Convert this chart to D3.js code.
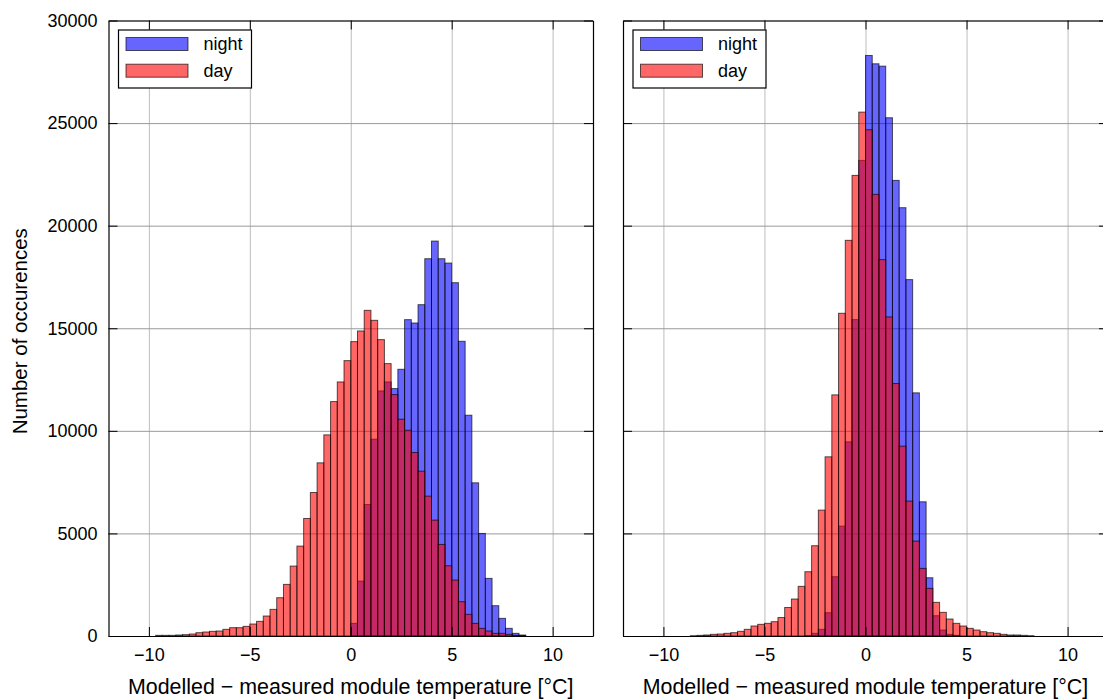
<!DOCTYPE html>
<html>
<head>
<meta charset="utf-8">
<script src="https://cdn.jsdelivr.net/npm/d3@7"></script>
<style>
  html, body { margin: 0; padding: 0; background: #fff; }
  svg { display: block; }
  text { font-family: "Liberation Sans", Arial, Helvetica, sans-serif; fill: #000; }
</style>
</head>
<body>
<svg id="chart" width="1103" height="700"></svg>
<script>
// ---- data (bin left edges in °C, bin width 1/3 °C) ----
const binWidth = 1 / 3;
const binStarts = d3.range(-29, 26).map(k => k / 3);   // 55 bins from -9.67 to 8.67

const nightLeft = [0,0,0,0,0,0,0,0,0,0, 0,0,0,0,0,0,0,0,0,0, 0,0,0,0,0,0,0,0,0,
  617, 2678, 6411, 9592, 11945, 12383, 12059, 13000, 15419, 15256, 16149,
  18389, 19249, 18389, 18178, 17220, 14364, 10761, 7466, 4999, 2808,
  1477, 860, 373, 130, 49];

const dayLeft = [32, 32, 32, 49, 65, 97, 162, 195, 227, 243,
  325, 406, 406, 470, 584, 714, 974, 1298, 1866, 2516,
  3408, 4382, 5729, 6995, 8440, 9803, 11426, 12383, 13422, 14347,
  14867, 15873, 15386, 14445, 13276, 11767, 10566, 10030, 8943, 8034,
  6817, 5648, 4463, 3425, 2727, 1672, 1055, 617, 373, 243,
  130, 130, 81, 32, 16];

const nightRight = [0,0,0,0,0,0,0,0,0,0, 0,0,0,0,0,0,0,0,0,0,
  16, 130, 325, 1136, 2890, 5357, 9464, 15422, 23181, 28295,
  27890, 27775, 25260, 22207, 20876, 17370, 11851, 6541, 2839, 990,
  292, 81, 32, 0, 0, 0, 0, 0, 0, 0, 0, 0, 0, 0, 0];

const dayRight = [0, 0, 0, 16, 32, 49, 81, 97, 130, 162,
  227, 325, 487, 568, 617, 698, 900, 1390, 1802, 2420,
  3133, 4400, 6136, 8733, 11753, 15730, 19285, 22451, 25534, 24675,
  21525, 18344, 15552, 12305, 9253, 6575, 4627, 3295, 2321, 1640,
  1153, 828, 617, 487, 373, 292, 211, 162, 130, 81,
  49, 49, 32, 16, 0];

const xTicks = [-10, -5, 0, 5, 10];
const yTicks = [0, 5000, 10000, 15000, 20000, 25000, 30000];
const seriesNames = ["night", "day"];
const xLabel = "Modelled \u2212 measured module temperature [\u00B0C]";
const yLabel = "Number of occurences";

// ---- layout ----
const svg = d3.select("#chart");
const plotTop = 20.5, plotBottom = 636;
const panels = [
  { x0: 108.5, x1: 593, night: nightLeft, day: dayLeft, showY: true },
  { x0: 623, x1: 1108, night: nightRight, day: dayRight, showY: false }
];
const colors = { night: "rgba(0,0,255,0.6)", day: "rgba(255,0,0,0.6)" };
const edge = "rgba(0,0,0,0.65)";
const tickFont = 18;

const y = d3.scaleLinear().domain([0, 30000]).range([plotBottom, plotTop]);

panels.forEach((p, pi) => {
  const x = d3.scaleLinear().domain([-12, 12]).range([p.x0, p.x1]);
  const g = svg.append("g");

  // grid
  const gridV = g.append("g").attr("transform", `translate(0,${plotBottom})`)
    .call(d3.axisBottom(x).tickValues(xTicks).tickSize(-(plotBottom - plotTop)).tickFormat(""));
  gridV.select(".domain").remove();
  gridV.selectAll("line").attr("stroke", "#bdbdbd").attr("stroke-width", 1);
  const gridH = g.append("g").attr("transform", `translate(${p.x0},0)`)
    .call(d3.axisLeft(y).tickValues(yTicks).tickSize(-(p.x1 - p.x0)).tickFormat(""));
  gridH.select(".domain").remove();
  gridH.selectAll("line").attr("stroke", "#9a9a9a").attr("stroke-width", 1);

  // bars: night first, day on top
  [["night", p.night], ["day", p.day]].forEach(([name, vals]) => {
    g.append("g").selectAll("rect")
      .data(binStarts.map((b, i) => ({ b, v: vals[i] })).filter(d => d.v > 0))
      .join("rect")
      .attr("x", d => x(d.b))
      .attr("width", d => x(d.b + binWidth) - x(d.b))
      .attr("y", d => y(d.v))
      .attr("height", d => y(0) - y(d.v))
      .attr("fill", colors[name])
      .attr("stroke", edge)
      .attr("stroke-width", 1);
  });

  // axes (inward ticks on all four sides)
  const styleAxis = sel => {
    sel.select(".domain").attr("stroke", "#000").attr("stroke-width", 1.2);
    sel.selectAll(".tick line").attr("stroke", "#000").attr("stroke-width", 1);
    sel.selectAll("text").style("font-size", tickFont + "px")
      .style("font-family", '"Liberation Sans", Arial, sans-serif').attr("fill", "#000");
  };
  g.append("g").attr("transform", `translate(0,${plotBottom})`)
    .call(d3.axisBottom(x).tickValues(xTicks).tickSize(-9).tickSizeOuter(0).tickPadding(12))
    .call(styleAxis);
  g.append("g").attr("transform", `translate(0,${plotTop})`)
    .call(d3.axisTop(x).tickValues(xTicks).tickSize(-9).tickSizeOuter(0).tickFormat(""))
    .call(styleAxis);
  g.append("g").attr("transform", `translate(${p.x0},0)`)
    .call(d3.axisLeft(y).tickValues(yTicks).tickSize(-9).tickSizeOuter(0).tickPadding(11)
      .tickFormat(p.showY ? d3.format("d") : ""))
    .call(styleAxis);
  g.append("g").attr("transform", `translate(${p.x1},0)`)
    .call(d3.axisRight(y).tickValues(yTicks).tickSize(-9).tickSizeOuter(0).tickFormat(""))
    .call(styleAxis);

  // x label
  g.append("text")
    .attr("x", (p.x0 + p.x1) / 2).attr("y", 694)
    .attr("text-anchor", "middle")
    .style("font-size", "21.4px")
    .text(xLabel);

  // legend
  const lx = p.x0 + 10, ly = 30;
  const lg = g.append("g").attr("transform", `translate(${lx},${ly})`);
  lg.append("rect").attr("x", 0).attr("y", 0).attr("width", 133).attr("height", 58)
    .attr("fill", "#fff").attr("stroke", "#000").attr("stroke-width", 1.2);
  seriesNames.forEach((name, i) => {
    lg.append("rect").attr("x", 7.5).attr("y", 7.5 + i * 26.7).attr("width", 62).attr("height", 13)
      .attr("fill", colors[name]).attr("stroke", edge).attr("stroke-width", 1);
    lg.append("text").attr("x", 85).attr("y", 20 + i * 26.7)
      .style("font-size", "18px").text(name);
  });
});

// y label
svg.append("text")
  .attr("transform", `translate(27,${(plotTop + plotBottom) / 2 + 3}) rotate(-90)`)
  .attr("text-anchor", "middle")
  .style("font-size", "20.5px")
  .text(yLabel);
</script>
</body>
</html>
